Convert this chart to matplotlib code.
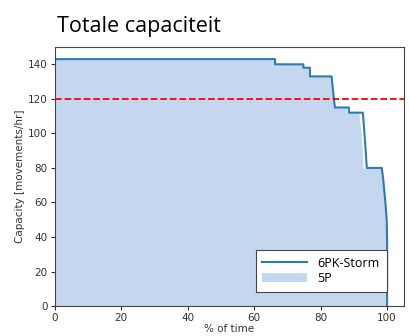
import matplotlib.pyplot as plt

# % of time vs capacity (duration curve)
storm_pct = [0, 66.3, 66.3, 74.8, 74.8, 76.8, 76.8, 83.3, 84.0, 84.3, 84.3, 88.5, 88.5,
             92.7, 93.0, 93.7, 93.9, 98.4, 98.8, 99.4, 99.9, 100.0, 100.0]
storm_cap = [143, 143, 140, 140, 138, 138, 133, 133, 120, 115, 115, 115, 112,
             112, 105, 86, 80, 80, 74, 62, 50, 39, 0]

p5_pct = [0, 66.3, 66.3, 74.8, 74.8, 76.8, 76.8, 83.3, 84.0, 84.3, 84.3, 87.8, 87.8,
          91.5, 92.2, 92.7, 92.7, 98.6, 99.0, 99.5, 99.9, 100.0, 100.0]
p5_cap = [143, 143, 140, 140, 138, 138, 133, 133, 120, 115, 115, 115, 112,
          112, 100, 86, 80, 80, 72, 60, 48, 38, 0]

threshold = 120

fig = plt.figure(figsize=(4.09, 3.36), dpi=100)
ax = fig.add_axes([0.134, 0.089, 0.853, 0.771])

fill = ax.fill_between(p5_pct, p5_cap, color='#c5d7ef', label='5P', lw=0)
line, = ax.plot(storm_pct, storm_cap, color='#2c7bb6', lw=1.5, label='6PK-Storm')
ax.axhline(threshold, color='red', ls='--', lw=1.3)

ax.set_xlim(0, 105)
ax.set_ylim(0, 150)
ax.set_xticks([0, 20, 40, 60, 80, 100])
ax.set_yticks([0, 20, 40, 60, 80, 100, 120, 140])
ax.tick_params(labelsize=7.5, colors='#333333', length=3, pad=2)
for s in ax.spines.values():
    s.set_color('#444444')

ax.set_xlabel('% of time', fontsize=7.5, color='#333333', labelpad=1)
ax.set_ylabel('Capacity [movements/hr]', fontsize=7.5, color='#333333', labelpad=2)

leg = ax.legend([line, fill], ['6PK-Storm', '5P'], loc='lower right',
                bbox_to_anchor=(0.951, 0.054), borderaxespad=0, fancybox=False,
                edgecolor='#444444', framealpha=1,
                prop={'family': 'Open Sans', 'size': 9},
                handlelength=3.6, borderpad=0.55, labelspacing=0.2)
leg.get_frame().set_linewidth(0.8)

fig.text(0.139, 0.905, 'Totale capaciteit', fontsize=15.5, family='Open Sans')

fig.savefig('out.png', dpi=100)
